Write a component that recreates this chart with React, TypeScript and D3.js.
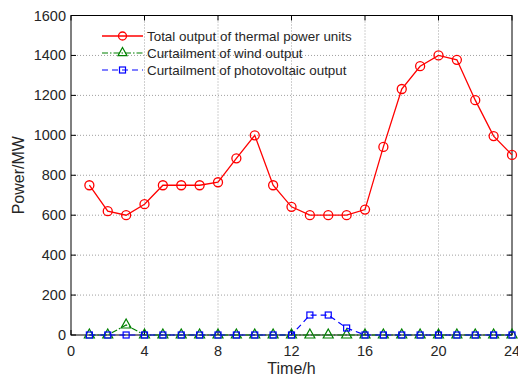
import React from "react";
import * as d3 from "d3";

const hours = [1,2,3,4,5,6,7,8,9,10,11,12,13,14,15,16,17,18,19,20,21,22,23,24];
const thermal = [750,620,600,655,750,750,750,765,885,1000,750,642,600,600,600,628,942,1232,1346,1400,1378,1176,996,902];
const wind = [0,0,50,0,0,0,0,0,0,0,0,0,0,0,0,0,0,0,0,0,0,0,0,0];
const solar = [0,0,0,0,0,0,0,0,0,0,0,0,100,100,35,0,0,0,0,0,0,0,0,0];
const xTicks = [0,4,8,12,16,20,24];
const yTicks = [0,200,400,600,800,1000,1200,1400,1600];
const legendLabels = ["Total output of thermal power units","Curtailment of wind output","Curtailment of photovoltaic output"];

const W = 518, H = 378;
const L = 71, R = 512, T = 15.5, B = 335;

export default function App() {
  const x = d3.scaleLinear().domain([0,24]).range([L,R]);
  const y = d3.scaleLinear().domain([0,1600]).range([B,T]);
  const line = d3.line<number>().x((_, i) => x(hours[i])).y(d => y(d));
  const font = "Arial, 'Liberation Sans', Helvetica, sans-serif";
  const txt = "#262626";
  const tri = (cx: number, cy: number, s = 5) => `M${cx},${cy - s}L${cx + s},${cy + s * 0.8}L${cx - s},${cy + s * 0.8}Z`;
  const legendY = [36, 53, 70];
  return (
    <svg width={W} height={H} style={{ position: "absolute", left: 0, top: 0, background: "#fff" }} fontFamily={font}>
      <rect x={0} y={0} width={W} height={H} fill="#fff" />
      {/* grid */}
      {xTicks.slice(1, -1).map(t => (
        <line key={"gx" + t} x1={x(t)} x2={x(t)} y1={T} y2={B} stroke="#a0a0a0" strokeWidth={1} strokeDasharray="1,2" />
      ))}
      {yTicks.slice(1, -1).map(t => (
        <line key={"gy" + t} x1={L} x2={R} y1={y(t)} y2={y(t)} stroke="#a0a0a0" strokeWidth={1} strokeDasharray="1,2" />
      ))}
      {/* axes box */}
      <rect x={L} y={T} width={R - L} height={B - T} fill="none" stroke="#000" strokeWidth={1} />
      {xTicks.map(t => (
        <g key={"xt" + t}>
          <line x1={x(t)} x2={x(t)} y1={B} y2={B - 5} stroke="#000" />
          <line x1={x(t)} x2={x(t)} y1={T} y2={T + 5} stroke="#000" />
          <text x={x(t)} y={356} textAnchor="middle" fontSize={14.5} fill={txt}>{t}</text>
        </g>
      ))}
      {yTicks.map(t => (
        <g key={"yt" + t}>
          <line x1={L} x2={L + 5} y1={y(t)} y2={y(t)} stroke="#000" />
          <line x1={R} x2={R - 5} y1={y(t)} y2={y(t)} stroke="#000" />
          <text x={66} y={y(t) + 5} textAnchor="end" fontSize={14.5} fill={txt}>{t}</text>
        </g>
      ))}
      <text x={(L + R) / 2} y={374} textAnchor="middle" fontSize={16} fill={txt}>Time/h</text>
      <text transform={`translate(24,${(T + B) / 2}) rotate(-90)`} textAnchor="middle" fontSize={16} fill={txt}>Power/MW</text>
      {/* series */}
      <path d={line(thermal) || ""} fill="none" stroke="#ff0000" strokeWidth={1.3} />
      {thermal.map((v, i) => (
        <circle key={"c" + i} cx={x(hours[i])} cy={y(v)} r={4.5} fill="none" stroke="#ff0000" strokeWidth={1.3} />
      ))}
      <path d={line(wind) || ""} fill="none" stroke="#008000" strokeWidth={1.2} strokeDasharray="6,2,1.5,2" />
      {wind.map((v, i) => (
        <path key={"t" + i} d={tri(x(hours[i]), y(v) - 1)} fill="none" stroke="#008000" strokeWidth={1.2} />
      ))}
      <path d={line(solar) || ""} fill="none" stroke="#0000ff" strokeWidth={1.2} strokeDasharray="6,4" />
      {solar.map((v, i) => (
        <rect key={"s" + i} x={x(hours[i]) - 3} y={y(v) - 3} width={6} height={6} fill="none" stroke="#0000ff" strokeWidth={1.2} />
      ))}
      {/* legend */}
      <g>
        <line x1={102} x2={143} y1={legendY[0]} y2={legendY[0]} stroke="#ff0000" strokeWidth={1.3} />
        <circle cx={122.5} cy={legendY[0]} r={4} fill="none" stroke="#ff0000" strokeWidth={1.3} />
        <line x1={102} x2={143} y1={legendY[1]} y2={legendY[1]} stroke="#008000" strokeWidth={1.2} strokeDasharray="6,2,1.5,2" />
        <path d={tri(122.5, legendY[1] - 1, 4.5)} fill="none" stroke="#008000" strokeWidth={1.2} />
        <line x1={102} x2={143} y1={legendY[2]} y2={legendY[2]} stroke="#0000ff" strokeWidth={1.2} strokeDasharray="6,4" />
        <rect x={119.5} y={legendY[2] - 3} width={6} height={6} fill="none" stroke="#0000ff" strokeWidth={1.2} />
        {legendLabels.map((l, i) => (
          <text key={l} x={147} y={legendY[i] + 4.5} fontSize={13.4} fill={txt}>{l}</text>
        ))}
      </g>
    </svg>
  );
}
